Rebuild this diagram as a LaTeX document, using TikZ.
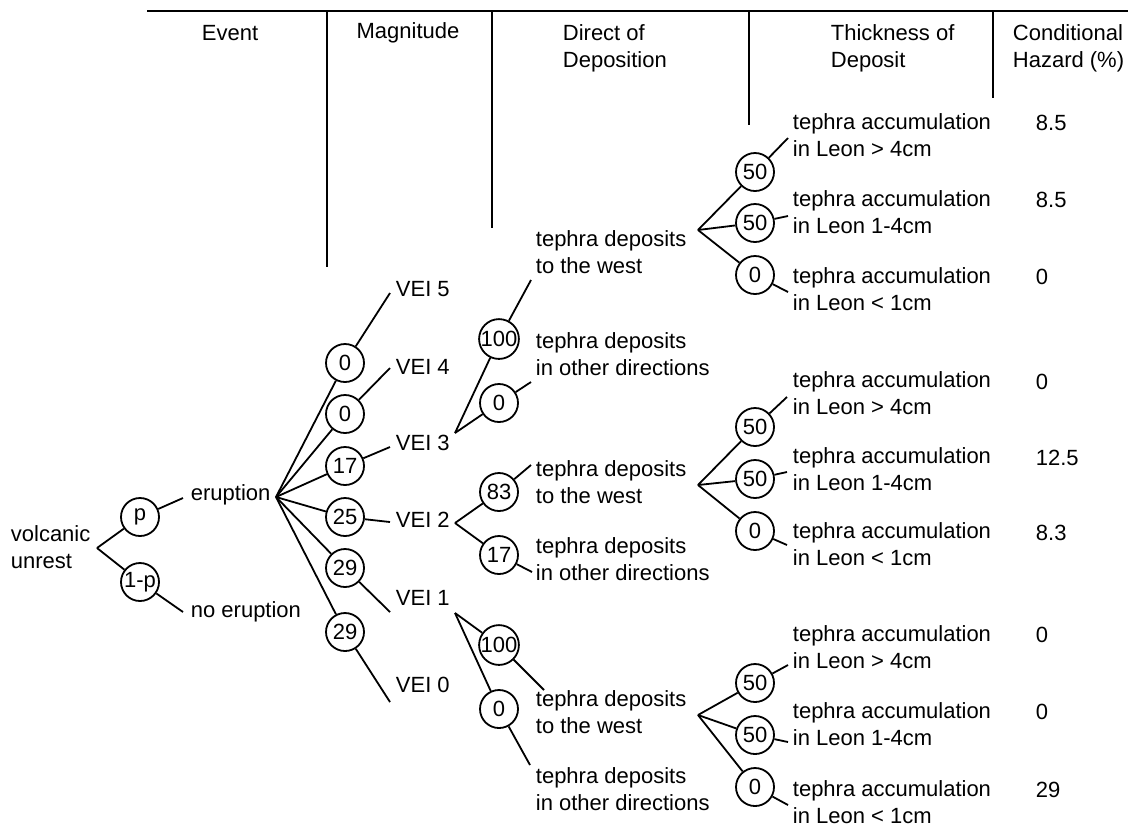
\documentclass[tikz,border=0pt]{standalone}
\usepackage{fontspec}
\setmainfont{Liberation Sans}
\usetikzlibrary{positioning}

\begin{document}
\begin{tikzpicture}[x=0.5pt,y=-0.5pt,line width=0.9pt,
  every node/.style={font=\fontsize{11}{13.5}\selectfont,inner sep=0pt},
  prob/.style={draw,circle,minimum size=19pt},
  lbl/.style={anchor=west,align=left}]
  \useasboundingbox (0,0) rectangle (1128,827);

  % Column headings
  \draw (147,11) -- (1128,11);
  \draw (327,11) -- (327,267);
  \draw (492,11) -- (492,228);
  \draw (749,11) -- (749,125);
  \draw (993,11) -- (993,98);
  \node (hEvent) at (230,33) {Event};
  \node (hMag) at (408,33) {Magnitude};
  \node[lbl] (hDir) at (562,48) {Direct of\\Deposition};
  \node[lbl] (hThick) at (830,48) {Thickness of\\Deposit};
  \node[lbl] (hHaz) at (1012,48) {Conditional\\Hazard (\%)};

  % Event
  \coordinate (root) at (97,548);
  \node[lbl] (unrest) at (10,547) {volcanic\\unrest};
  \node[prob] (pE) at (140,517) {p};
  \node[prob] (pN) at (140,582) {1-p};
  \coordinate (eE) at (183,498);
  \coordinate (eN) at (183,612);
  \node[lbl] (erupt) at (190,495) {eruption};
  \node[lbl] (noerupt) at (190,612) {no eruption};
  \draw (root) -- (pE) (pE) -- (eE);
  \draw (root) -- (pN) (pN) -- (eN);

  % Magnitude
  \coordinate (fE) at (276,497);
  \node[prob] (m5) at (345,363) {0};
  \node[prob] (m4) at (345,414) {0};
  \node[prob] (m3) at (345,466) {17};
  \node[prob] (m2) at (345,517) {25};
  \node[prob] (m1) at (345,568) {29};
  \node[prob] (m0) at (345,632) {29};
  \coordinate (v5e) at (390,293);
  \coordinate (v4e) at (390,368);
  \coordinate (v3e) at (390,447);
  \coordinate (v2e) at (390,522);
  \coordinate (v1e) at (390,612);
  \coordinate (v0e) at (390,702);
  \node[lbl] (vei5) at (395,289) {VEI 5};
  \node[lbl] (vei4) at (395,367) {VEI 4};
  \node[lbl] (vei3) at (395,443) {VEI 3};
  \node[lbl] (vei2) at (395,520) {VEI 2};
  \node[lbl] (vei1) at (395,598) {VEI 1};
  \node[lbl] (vei0) at (395,685) {VEI 0};
  \draw (fE) -- (m5) (m5) -- (v5e);
  \draw (fE) -- (m4) (m4) -- (v4e);
  \draw (fE) -- (m3) (m3) -- (v3e);
  \draw (fE) -- (m2) (m2) -- (v2e);
  \draw (fE) -- (m1) (m1) -- (v1e);
  \draw (fE) -- (m0) (m0) -- (v0e);

  % Direction of deposition
  \coordinate (f3) at (455,433);
  \coordinate (f2) at (455,523);
  \coordinate (f1) at (455,613);
  \node[prob] (d3w) at (499,339) {100};
  \node[prob] (d3o) at (499,403) {0};
  \node[prob] (d2w) at (499,492) {83};
  \node[prob] (d2o) at (499,555) {17};
  \node[prob] (d1w) at (499,645) {100};
  \node[prob] (d1o) at (499,709) {0};
  \coordinate (d3we) at (531,280);
  \coordinate (d3oe) at (531,382);
  \coordinate (d2we) at (531,465);
  \coordinate (d2oe) at (532,572);
  \coordinate (d1we) at (544,690);
  \coordinate (d1oe) at (530,765);
  \node[lbl] (w3) at (535,252) {tephra deposits\\to the west};
  \node[lbl] (o3) at (535,354) {tephra deposits\\in other directions};
  \node[lbl] (w2) at (535,482) {tephra deposits\\to the west};
  \node[lbl] (o2) at (535,559) {tephra deposits\\in other directions};
  \node[lbl] (w1) at (535,712) {tephra deposits\\to the west};
  \node[lbl] (o1) at (535,789) {tephra deposits\\in other directions};
  \draw (f3) -- (d3w) (d3w) -- (d3we);
  \draw (f3) -- (d3o) (d3o) -- (d3oe);
  \draw (f2) -- (d2w) (d2w) -- (d2we);
  \draw (f2) -- (d2o) (d2o) -- (d2oe);
  \draw (f1) -- (d1w) (d1w) -- (d1we);
  \draw (f1) -- (d1o) (d1o) -- (d1oe);

  % Thickness of deposit
  \coordinate (t3) at (698,230);
  \coordinate (t2) at (698,485);
  \coordinate (t1) at (698,715);
  \node[prob] (a3g) at (755,172) {50};
  \node[prob] (a3m) at (755,223) {50};
  \node[prob] (a3l) at (755,275) {0};
  \node[prob] (a2g) at (755,427) {50};
  \node[prob] (a2m) at (755,479) {50};
  \node[prob] (a2l) at (755,531) {0};
  \node[prob] (a1g) at (755,683) {50};
  \node[prob] (a1m) at (755,735) {50};
  \node[prob] (a1l) at (755,787) {0};
  \coordinate (a3ge) at (788,138);
  \coordinate (a3me) at (788,216);
  \coordinate (a3le) at (788,292);
  \coordinate (a2ge) at (787,397);
  \coordinate (a2me) at (787,472);
  \coordinate (a2le) at (787,545);
  \coordinate (a1ge) at (788,665);
  \coordinate (a1me) at (788,742);
  \coordinate (a1le) at (788,805);
  \node[lbl] (k3g) at (792,135) {tephra accumulation\\in Leon > 4cm};
  \node[lbl] (k3m) at (792,212) {tephra accumulation\\in Leon 1-4cm};
  \node[lbl] (k3l) at (792,289) {tephra accumulation\\in Leon < 1cm};
  \node[lbl] (k2g) at (792,393) {tephra accumulation\\in Leon > 4cm};
  \node[lbl] (k2m) at (792,469) {tephra accumulation\\in Leon 1-4cm};
  \node[lbl] (k2l) at (792,544) {tephra accumulation\\in Leon < 1cm};
  \node[lbl] (k1g) at (792,647) {tephra accumulation\\in Leon > 4cm};
  \node[lbl] (k1m) at (792,724) {tephra accumulation\\in Leon 1-4cm};
  \node[lbl] (k1l) at (792,802) {tephra accumulation\\in Leon < 1cm};
  \draw (t3) -- (a3g) (a3g) -- (a3ge);
  \draw (t3) -- (a3m) (a3m) -- (a3me);
  \draw (t3) -- (a3l) (a3l) -- (a3le);
  \draw (t2) -- (a2g) (a2g) -- (a2ge);
  \draw (t2) -- (a2m) (a2m) -- (a2me);
  \draw (t2) -- (a2l) (a2l) -- (a2le);
  \draw (t1) -- (a1g) (a1g) -- (a1ge);
  \draw (t1) -- (a1m) (a1m) -- (a1me);
  \draw (t1) -- (a1l) (a1l) -- (a1le);

  % Conditional hazard
  \node[lbl] (h3g) at (1035,123) {8.5};
  \node[lbl] (h3m) at (1035,200) {8.5};
  \node[lbl] (h3l) at (1035,277) {0};
  \node[lbl] (h2g) at (1035,382) {0};
  \node[lbl] (h2m) at (1035,458) {12.5};
  \node[lbl] (h2l) at (1035,533) {8.3};
  \node[lbl] (h1g) at (1035,635) {0};
  \node[lbl] (h1m) at (1035,712) {0};
  \node[lbl] (h1l) at (1035,790) {29};
\end{tikzpicture}
\end{document}
